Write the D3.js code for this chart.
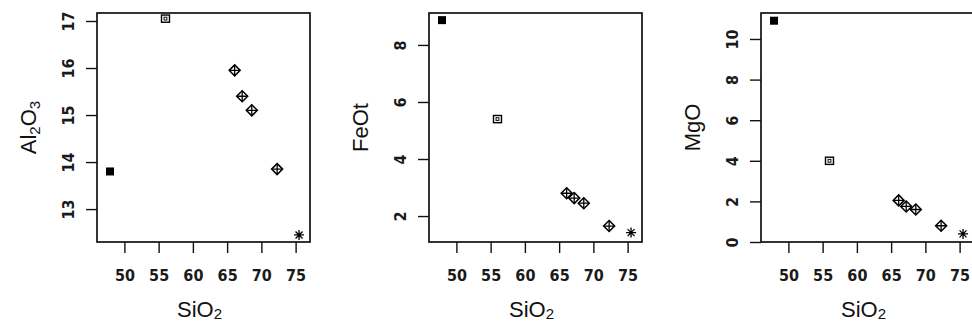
<!DOCTYPE html>
<html lang="en">
<head>
<meta charset="UTF-8">
<title>SiO2 variation diagrams</title>
<script src="https://cdn.jsdelivr.net/npm/d3@7"></script>
<style>
  body { margin: 0; background: #fff; }
  .tick-lab { font-family: "Liberation Sans Narrow", "DejaVu Sans Condensed", "Liberation Sans", sans-serif; font-size: 16px; font-weight: bold; fill: #1a1a1a; }
  .ax-title { font-family: "Liberation Sans", Arial, sans-serif; font-size: 22px; fill: #111; }
</style>
</head>
<body>
<svg id="chart" width="972" height="324"></svg>
<script>
// samples
const sio2  = [47.9, 56.0, 66.1, 67.2, 68.6, 72.3, 75.5];
const al2o3 = [13.8, 17.05, 15.95, 15.4, 15.1, 13.85, 12.45];
const feot  = [8.87, 5.4, 2.8, 2.63, 2.45, 1.65, 1.42];
const mgo   = [10.9, 4.0, 2.05, 1.75, 1.6, 0.8, 0.4];
const symbols = ["filledSquare", "squareBox", "diamondPlus", "diamondPlus", "diamondPlus", "diamondPlus", "star"];

const xTicks = [50, 55, 60, 65, 70, 75];
const al2o3Ticks = [13, 14, 15, 16, 17];
const feotTicks = [2, 4, 6, 8];
const mgoTicks = [0, 2, 4, 6, 8, 10];

const svg = d3.select("#chart");
const plotTop = 13, plotBottom = 242, w = 213;

const panels = [
  {left: 97,  values: al2o3, ticks: al2o3Ticks, ydom: [12.3, 17.17], title: [["Al", 0], ["2", 1], ["O", 0], ["3", 1]]},
  {left: 429, values: feot,  ticks: feotTicks,  ydom: [1.09, 9.12],  title: [["FeOt", 0]]},
  {left: 761, values: mgo,   ticks: mgoTicks,   ydom: [0, 11.28],    title: [["MgO", 0]]}
];

function marker(g, type) {
  if (type === "filledSquare") {
    g.append("rect").attr("x", -4).attr("y", -4).attr("width", 8).attr("height", 8).attr("fill", "#000");
  } else if (type === "squareBox") {
    g.append("rect").attr("x", -4).attr("y", -3.6).attr("width", 8).attr("height", 7.2)
      .attr("fill", "none").attr("stroke", "#000").attr("stroke-width", 1.4);
    g.append("rect").attr("x", -1.4).attr("y", -1.4).attr("width", 2.8).attr("height", 2.8)
      .attr("fill", "none").attr("stroke", "#222").attr("stroke-width", 1.1);
  } else if (type === "diamondPlus") {
    g.append("path").attr("d", "M0,-5.5L5.5,0L0,5.5L-5.5,0Z")
      .attr("fill", "none").attr("stroke", "#000").attr("stroke-width", 1.5);
    g.append("path").attr("d", "M0,-5.5V5.5M-5.5,0H5.5").attr("stroke", "#000").attr("stroke-width", 1.3);
  } else if (type === "star") {
    g.append("path").attr("d", "M0,-5V5M-5,0H5M-3.5,-3.5L3.5,3.5M-3.5,3.5L3.5,-3.5")
      .attr("stroke", "#000").attr("stroke-width", 1.3);
  }
}

panels.forEach(function (p) {
  const x = d3.scaleLinear().domain([46, 77.1]).range([p.left, p.left + w]);
  const y = d3.scaleLinear().domain(p.ydom).range([plotBottom, plotTop]);
  const g = svg.append("g");

  // box
  g.append("rect").attr("x", p.left).attr("y", plotTop).attr("width", w).attr("height", plotBottom - plotTop)
    .attr("fill", "none").attr("stroke", "#111").attr("stroke-width", 1.7);

  // x axis
  const xa = g.append("g").attr("transform", "translate(0," + plotBottom + ")")
    .call(d3.axisBottom(x).tickValues(xTicks).tickSize(11).tickPadding(17));
  xa.select(".domain").remove();
  xa.selectAll("line").attr("stroke", "#111").attr("stroke-width", 1.4);
  xa.selectAll("text").attr("class", "tick-lab").attr("font-size", null).attr("font-family", null);

  // y axis, labels rotated like base R
  const ya = g.append("g").attr("transform", "translate(" + p.left + ",0)")
    .call(d3.axisLeft(y).tickValues(p.ticks).tickSize(11).tickFormat(d3.format("d")));
  ya.select(".domain").remove();
  ya.selectAll("line").attr("stroke", "#111").attr("stroke-width", 1.4);
  ya.selectAll("text").attr("class", "tick-lab").attr("font-size", null).attr("font-family", null)
    .attr("x", null).attr("dy", null)
    .attr("text-anchor", "middle").attr("dominant-baseline", "central")
    .attr("transform", "translate(-29,0) rotate(-90)");

  // points
  p.values.forEach(function (v, i) {
    const mg = g.append("g").attr("transform", "translate(" + x(sio2[i]) + "," + y(v) + ")");
    marker(mg, symbols[i]);
  });

  // x title
  const xt = g.append("text").attr("class", "ax-title").attr("text-anchor", "middle")
    .attr("x", p.left + w / 2 - 4).attr("y", 317);
  xt.append("tspan").text("SiO");
  xt.append("tspan").attr("font-size", 15).attr("dy", 2).text("2");

  // y title
  const yt = g.append("text").attr("class", "ax-title").attr("text-anchor", "middle")
    .attr("transform", "translate(" + (p.left - 61) + "," + ((plotTop + plotBottom) / 2) + ") rotate(-90)");
  p.title.forEach(function (t, k) {
    const prev = k > 0 ? p.title[k - 1][1] : 0;
    const ts = yt.append("tspan").text(t[0]);
    if (t[1]) ts.attr("font-size", 15).attr("dy", prev ? 0 : 4);
    else if (prev) ts.attr("dy", -4);
  });
});
</script>
</body>
</html>
